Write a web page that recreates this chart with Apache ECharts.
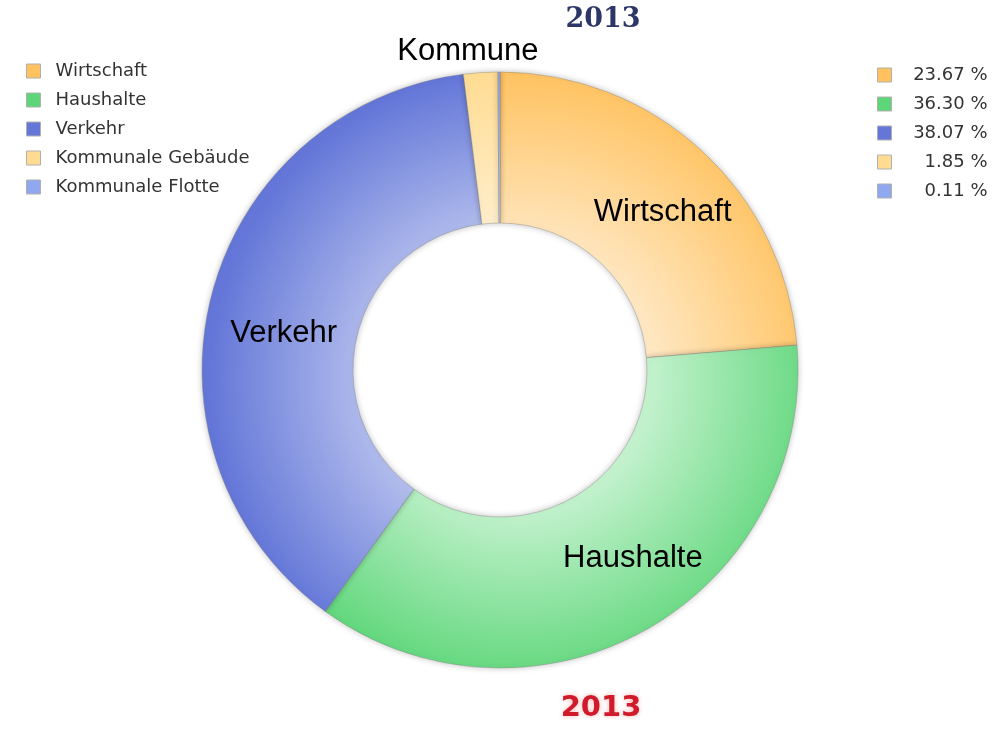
<!DOCTYPE html>
<html>
<head>
<meta charset="utf-8">
<script src="https://cdn.jsdelivr.net/npm/echarts@6/dist/echarts.min.js"></script>
<style>
  html, body { margin: 0; padding: 0; background: #fff; }
  #chart { width: 992px; height: 732px; }
</style>
</head>
<body>
<div id="chart"></div>
<script>
// Daten 2013
var categories = ['Wirtschaft', 'Haushalte', 'Verkehr', 'Kommunale Gebäude', 'Kommunale Flotte'];
var shares = [23.67, 36.30, 38.07, 1.85, 0.11];
var shareLabels = ['23.67 %', '36.30 %', '38.07 %', '1.85 %', '0.11 %'];
var sliceLabels = ['Wirtschaft', 'Haushalte', 'Verkehr', 'Kommune', ''];

// Farben: kräftig aussen, hell innen
var baseColors = ['#ffc25f', '#5dd679', '#6477d8', '#ffdc92', '#8fa8f0'];
var lightColors = ['#ffe6bf', '#bdf0c8', '#b9c3ee', '#fff0d2', '#cdd8f8'];

// Feinjustierung der Beschriftung (Pixel-Versatz)
var labelShift = [[10, 8], [22, -8], [2, 20], [63, -19], [0, 0]];

function grad(i) {
    return {
        type: 'radial', x: 520, y: 380, r: 310, global: true,
        colorStops: [
            { offset: 0, color: '#ffffff' },
            { offset: 0.45, color: lightColors[i] },
            { offset: 1, color: baseColors[i] }
        ]
    };
}

var pieData = [];
for (var i = 0; i < categories.length; i++) {
    var item = {
        name: categories[i],
        value: shares[i],
        itemStyle: { color: grad(i) },
        label: { show: sliceLabels[i] !== '', formatter: sliceLabels[i] }
    };
    if (i === 3) {
        item.label.position = 'outside';
        item.labelLine = { show: false, length: 2, length2: 0 };
    }
    pieData.push(item);
}

var legendData = [];
for (var j = 0; j < categories.length; j++) {
    legendData.push({ name: categories[j], itemStyle: { color: baseColors[j], borderColor: '#b0b0b0', borderWidth: 1 } });
}

var chart = echarts.init(document.getElementById('chart'));
chart.setOption({
    backgroundColor: '#ffffff',
    animation: false,
    title: [
        {
            text: '2013', left: 598, top: 1, textAlign: 'center',
            textStyle: { fontFamily: 'DejaVu Serif', fontWeight: 'bold', fontSize: 27, color: '#2c3768' }
        },
        {
            text: '2013', left: 596, top: 689, textAlign: 'center',
            textStyle: {
                fontFamily: 'DejaVu Sans', fontWeight: 'bold', fontSize: 29, color: '#d01c2a',
                textShadowColor: 'rgba(255,90,90,0.45)', textShadowBlur: 5
            }
        }
    ],
    legend: [
        {
            orient: 'vertical', left: 21, top: 55,
            icon: 'rect', itemWidth: 14, itemHeight: 14, itemGap: 7,
            selectedMode: false,
            data: legendData,
            textStyle: { fontFamily: 'DejaVu Sans', fontSize: 18, lineHeight: 22, color: '#333', padding: [0, 0, 0, 10] }
        },
        {
            orient: 'vertical', left: 872, top: 59,
            icon: 'rect', itemWidth: 14, itemHeight: 14, itemGap: 7,
            selectedMode: false,
            data: legendData,
            formatter: function (name) {
                return '{p|' + shareLabels[categories.indexOf(name)] + '}';
            },
            textStyle: {
                fontFamily: 'DejaVu Sans', fontSize: 18, lineHeight: 22, color: '#333',
                rich: { p: { width: 91, align: 'right', fontFamily: 'DejaVu Sans', fontSize: 18, lineHeight: 22, color: '#333' } }
            }
        }
    ],
    series: [
        {
            name: '2013',
            type: 'pie',
            center: [500, 370],
            radius: [147, 298],
            startAngle: 90,
            clockwise: true,
            avoidLabelOverlap: false,
            silent: true,
            itemStyle: {
                borderColor: 'rgba(120,120,120,0.35)',
                borderWidth: 1,
                shadowBlur: 6,
                shadowColor: 'rgba(0,0,0,0.25)'
            },
            label: {
                position: 'inside',
                fontFamily: 'Liberation Sans',
                fontSize: 31,
                color: '#000'
            },
            labelLayout: function (params) {
                var s = labelShift[params.dataIndex];
                return { dx: s[0], dy: s[1] };
            },
            data: pieData
        }
    ]
});
</script>
</body>
</html>
